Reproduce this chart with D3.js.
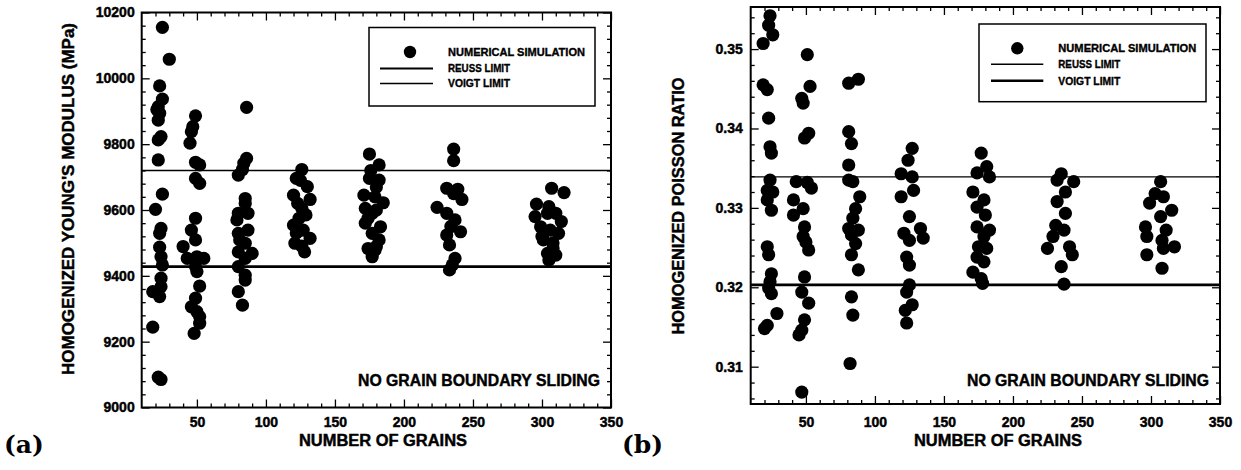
<!DOCTYPE html>
<html><head><meta charset="utf-8">
<script src="https://cdn.jsdelivr.net/npm/d3@7"></script>
<style>body{margin:0;background:#fff}svg{display:block}</style>
</head><body><svg id="fig" width="1241" height="470"></svg>
<script>
// Number of grains in each simulated aggregate (panel a) and resulting Young's modulus, MPa
const youngGrains = [
  25,30,23,25,22,23,22,24,22,22,25,20,24,23,23,24,25,24,24,18,23,18,22,24,21,
  49,47,46,45,49,52,49,52,49,46,49,40,43,50,55,49,50,52,49,46,50,52,52,48,
  86,86,84,83,80,85,85,80,87,79,87,80,81,85,80,90,85,80,85,85,80,83,
  126,122,130,120,132,126,124,120,127,132,121,128,125,123,129,122,126,
  175,182,182,175,171,179,185,172,177,172,183,177,182,174,179,177,180,176,180,174,180,
  236,236,231,239,242,224,231,237,241,231,233,237,235,233,236,234,
  307,316,296,304,295,310,314,299,306,312,301,308,304,310,305,305,300,308
];
const youngModulus = [
  10155,10058,9977,9937,9914,9894,9873,9823,9813,9752,9648,9602,9544,9529,9487,9458,9433,9393,9367,9352,9337,9244,9092,9085,9905,
  9886,9853,9838,9803,9745,9737,9696,9681,9575,9539,9509,9489,9453,9458,9453,9428,9413,9369,9332,9306,9291,9276,9256,9225,
  9912,9757,9742,9723,9706,9635,9620,9590,9590,9570,9539,9529,9509,9499,9473,9468,9453,9428,9402,9387,9352,9311,
  9723,9696,9671,9645,9632,9605,9575,9554,9539,9514,9499,9473,9690,9620,9585,9530,9490,
  9770,9737,9691,9696,9645,9640,9622,9605,9590,9560,9549,9529,9509,9483,9478,9458,9489,9720,9670,9575,9600,
  9785,9750,9666,9663,9632,9608,9590,9570,9534,9524,9494,9453,9433,9418,9650,9550,
  9666,9653,9618,9590,9580,9590,9565,9549,9539,9529,9509,9483,9468,9463,9448,9610,9520,9500
];
// Number of grains (panel b) and resulting Poisson ratio
const poissonGrains = [
  24,23,26,19,19,22,23,24,25,24,22,26,22,25,22,23,25,24,23,25,29,22,20,
  51,53,47,48,52,49,43,51,54,41,48,41,49,48,50,52,49,47,52,49,47,45,47,
  81,88,81,83,81,81,84,89,86,84,81,88,83,86,83,88,83,84,82,
  127,124,119,127,128,119,125,133,121,135,125,123,125,125,123,127,122,123,
  177,181,174,183,171,179,174,180,174,183,179,175,181,174,179,171,177,178,
  235,244,232,238,232,238,231,237,229,225,241,243,235,237,
  307,303,309,299,315,307,296,311,297,308,317,309,297,308
];
const poissonRatio = [
  0.3542,0.3530,0.3518,0.3507,0.3455,0.3449,0.3413,0.3377,0.3369,0.3335,0.3322,0.3320,0.3310,0.3297,0.3251,0.3241,0.3217,0.3207,0.3199,0.3192,0.3167,0.3152,0.3148,
  0.3493,0.3453,0.3438,0.3432,0.3394,0.3388,0.3333,0.3332,0.3325,0.3310,0.3299,0.3291,0.3276,0.3264,0.3257,0.3247,0.3213,0.3194,0.3180,0.3159,0.3146,0.3140,0.3068,
  0.3457,0.3462,0.3396,0.3381,0.3354,0.3335,0.3333,0.3314,0.3299,0.3287,0.3274,0.3272,0.3266,0.3255,0.3241,0.3222,0.3188,0.3165,0.3104,
  0.3375,0.3360,0.3343,0.3339,0.3322,0.3314,0.3289,0.3274,0.3268,0.3262,0.3259,0.3238,0.3228,0.3203,0.3194,0.3178,0.3171,0.3155,
  0.3369,0.3352,0.3344,0.3339,0.3320,0.3310,0.3301,0.3291,0.3276,0.3272,0.3264,0.3251,0.3249,0.3238,0.3232,0.3219,0.3211,0.3205,
  0.3343,0.3333,0.3335,0.3320,0.3308,0.3293,0.3278,0.3272,0.3264,0.3249,0.3251,0.3241,0.3226,0.3204,
  0.3333,0.3318,0.3314,0.3306,0.3297,0.3289,0.3276,0.3272,0.3264,0.3259,0.3251,0.3249,0.3241,0.3224
];
// Analytical bounds
const youngUpperLimit = 9720, youngLowerLimit = 9428;
const poissonUpperLimit = 0.3339, poissonLowerLimit = 0.3203;
// Axis ticks
const grainTicks = [50,100,150,200,250,300,350];
const youngTicks = [9000,9200,9400,9600,9800,10000,10200];
const poissonTicks = [0.31,0.32,0.33,0.34,0.35];
const legendLabels = ["NUMERICAL SIMULATION","REUSS LIMIT","VOIGT LIMIT"];

const svg = d3.select("#fig");
const SANS = "'Liberation Sans', Arial, sans-serif";

// heavy sans text: bold face plus a thin outline
const heavy = (sel, size) => sel.attr("font-family",SANS).attr("font-weight","bold")
  .attr("font-size",size).attr("fill","#000").attr("stroke","#000").attr("stroke-width",0.45);

function panel(o) {
  const g = svg.append("g");
  const x = d3.scaleLinear().domain([10,350]).range(o.xr);
  const y = d3.scaleLinear().domain(o.yd).range(o.yr);
  const [x0,x1] = o.xr, [y0,y1] = o.yr;   // y0 bottom, y1 top

  const grainMinor = d3.range(20,350,10).filter(v => v % 50 !== 0);
  const yMinor = o.yMinor;

  const tickStyle = sel => {
    sel.select(".domain").remove();
    sel.selectAll("line").attr("stroke","#000").attr("stroke-width",1.3);
    sel.selectAll("text").call(heavy,14);
  };
  // bottom and top
  g.append("g").attr("transform",`translate(0,${y0})`)
    .call(d3.axisBottom(x).tickValues(grainTicks).tickSize(-8).tickPadding(o.xPad).tickFormat(d3.format("d"))).call(tickStyle);
  g.append("g").attr("transform",`translate(0,${y0})`)
    .call(d3.axisBottom(x).tickValues(grainMinor).tickSize(-4).tickFormat("")).call(tickStyle);
  g.append("g").attr("transform",`translate(0,${y1})`)
    .call(d3.axisTop(x).tickValues(grainTicks).tickSize(-8).tickFormat("")).call(tickStyle);
  g.append("g").attr("transform",`translate(0,${y1})`)
    .call(d3.axisTop(x).tickValues(grainMinor).tickSize(-4).tickFormat("")).call(tickStyle);
  // left and right
  g.append("g").attr("transform",`translate(${x0},0)`)
    .call(d3.axisLeft(y).tickValues(o.yTicks).tickSize(-8).tickPadding(o.yPad).tickFormat(o.yFmt)).call(tickStyle);
  g.append("g").attr("transform",`translate(${x0},0)`)
    .call(d3.axisLeft(y).tickValues(yMinor).tickSize(-4).tickFormat("")).call(tickStyle);
  g.append("g").attr("transform",`translate(${x1},0)`)
    .call(d3.axisRight(y).tickValues(o.yTicks).tickSize(-8).tickFormat("")).call(tickStyle);
  g.append("g").attr("transform",`translate(${x1},0)`)
    .call(d3.axisRight(y).tickValues(yMinor).tickSize(-4).tickFormat("")).call(tickStyle);

  // frame
  g.append("rect").attr("x",x0).attr("y",y1).attr("width",x1-x0).attr("height",y0-y1)
    .attr("fill","none").attr("stroke","#000").attr("stroke-width",2);

  // bound lines
  g.append("line").attr("x1",x0).attr("x2",x1).attr("y1",y(o.upper)).attr("y2",y(o.upper))
    .attr("stroke","#000").attr("stroke-width",1.4);
  g.append("line").attr("x1",x0).attr("x2",x1).attr("y1",y(o.lower)).attr("y2",y(o.lower))
    .attr("stroke","#000").attr("stroke-width",2.6);

  // simulation points
  g.append("g").selectAll("circle").data(o.xs.map((v,i) => [v,o.ys[i]])).join("circle")
    .attr("cx",d => x(d[0])).attr("cy",d => y(d[1])).attr("r",6.6).attr("fill","#000");

  // legend
  const L = o.legend;
  const lg = g.append("g").attr("transform",`translate(${L.x},${L.y})`);
  lg.append("rect").attr("width",L.w).attr("height",L.h).attr("fill","#fff")
    .attr("stroke","#000").attr("stroke-width",1.5);
  lg.append("circle").attr("cx",L.mx).attr("cy",L.rows[0]).attr("r",6.2).attr("fill","#000");
  [1,2].forEach(i => lg.append("line").attr("x1",L.lx0).attr("x2",L.lx1)
    .attr("y1",L.rows[i]).attr("y2",L.rows[i]).attr("stroke","#000").attr("stroke-width",L.lw[i-1]));
  legendLabels.forEach((t,i) => lg.append("text").attr("x",L.tx).attr("y",L.rows[i]).attr("dy","0.36em")
    .call(heavy,11).attr("stroke-width",0.35)
    .attr("textLength",L.tl[i]).attr("lengthAdjust","spacingAndGlyphs").text(t));

  // annotation
  g.append("text").attr("x",x1-11).attr("y",386).attr("text-anchor","end")
    .call(heavy,16.5)
    .attr("textLength",242).attr("lengthAdjust","spacingAndGlyphs").text("NO GRAIN BOUNDARY SLIDING");

  // axis titles
  g.append("text").attr("x",o.xLabelX).attr("y",446).attr("text-anchor","middle")
    .call(heavy,16)
    .attr("textLength",168).attr("lengthAdjust","spacingAndGlyphs").text("NUMBER OF GRAINS");
  g.append("text").attr("transform",`translate(${o.yLabelX},${o.yLabelY}) rotate(-90)`)
    .attr("text-anchor","middle").attr("dy","0.36em")
    .call(heavy,16.5)
    .attr("textLength",o.yLabelLen).attr("lengthAdjust","spacingAndGlyphs").text(o.yLabel);

  // panel tag
  g.append("text").attr("x",o.tagX).attr("y",453)
    .attr("font-family","'DejaVu Serif','Liberation Serif',serif").attr("font-weight","bold")
    .attr("font-size",25).text(o.tag);
}

panel({
  xr:[141.7,611], yr:[407.5,12.5], yd:[9000,10200],
  yTicks: youngTicks, yMinor: d3.range(9040,10200,40).filter(v => v % 200 !== 0),
  yFmt: d3.format("d"), xPad: 10, yPad: 7,
  xs: youngGrains, ys: youngModulus, upper: youngUpperLimit, lower: youngLowerLimit,
  legend:{x:369,y:27.5,w:226,h:78.5,mx:41,lx0:11,lx1:64,tx:79,rows:[24.5,41,56],lw:[2.2,1.4],tl:[137,62,62]},
  xLabelX:383, yLabel:"HOMOGENIZED YOUNG'S MODULUS  (MPa)", yLabelX:68, yLabelY:199, yLabelLen:352,
  tag:"(a)", tagX:4
});
panel({
  xr:[750.7,1220], yr:[404,7], yd:[0.3053,0.3553],
  yTicks: poissonTicks, yMinor: d3.range(0,25).map(i => +(0.306 + i*0.002).toFixed(3)).filter(v => Math.round(v*1000) % 10 !== 0 && v < 0.355),
  yFmt: d3.format(".2f"), xPad: 13, yPad: 8,
  xs: poissonGrains, ys: poissonRatio, upper: poissonUpperLimit, lower: poissonLowerLimit,
  legend:{x:979,y:24,w:227,h:77.7,mx:38.3,lx0:12,lx1:64.3,tx:79.3,rows:[24.3,40.3,56.7],lw:[1.4,2.6],tl:[138,62,62]},
  xLabelX:998, yLabel:"HOMOGENIZED POISSON RATIO", yLabelX:678, yLabelY:206, yLabelLen:257,
  tag:"(b)", tagX:622
});
</script></body></html>
